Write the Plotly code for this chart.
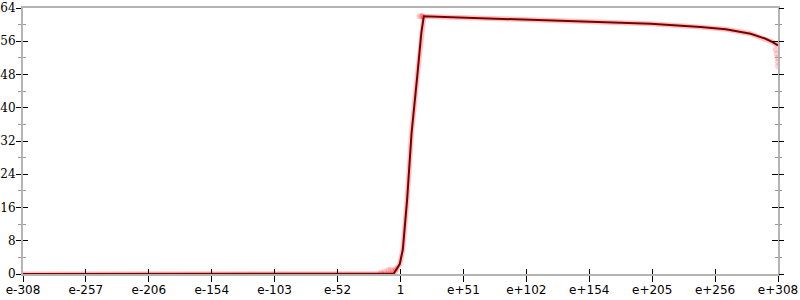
import plotly.graph_objects as go

# exponent (base 10) of x, and measured value
line_x = [-308, -250, -200, -150, -100, -50, -20, -10, -5.5, -0.6, 1.9, 5.4, 9.0,
          13.6, 15.0, 17.0, 19.0, 40.8, 81.6, 122.4, 163.2, 204.0, 244.9, 265.3,
          285.7, 297.9, 303.6, 306.9, 308.0]
line_y = [0, 0, 0, 0, 0, 0, 0, 0, 0.1, 2.4, 5.9, 17.9, 33.8,
          47.4, 51.8, 58.0, 62.0, 61.8, 61.4, 61.1, 60.7, 60.2, 59.4, 58.9,
          57.8, 56.6, 55.8, 55.2, 55.0]

# scattered samples visible away from the main line
scatter_x = [-16, -13, -10, -8, -6, -4, 15.5, 17.0, 18.0, 306.0, 307.0, 307.5, 308.0, 308.0]
scatter_y = [0.3, 0.6, 0.9, 1.0, 0.8, 1.2, 62.0, 62.0, 62.0, 54.0, 53.0, 52.0, 51.0, 50.0]

x_tickvals = [-308 + k * 616 / 12 for k in range(13)]
x_ticktext = ["e-308", "e-257", "e-206", "e-154", "e-103", "e-52", "1",
              "e+51", "e+102", "e+154", "e+205", "e+256", "e+308"]

AXIS_GRAY = "#b4b4b4"
MINOR_GRAY = "#9a9a9a"

fig = go.Figure()

# red halo of overlapping samples
fig.add_trace(go.Scatter(x=line_x, y=line_y, mode="lines",
                         line=dict(color="rgba(255,0,0,0.25)", width=5),
                         hoverinfo="skip", showlegend=False))
fig.add_trace(go.Scatter(x=scatter_x, y=scatter_y, mode="markers",
                         marker=dict(color="rgba(255,0,0,0.18)", size=6, line=dict(width=0)),
                         hoverinfo="skip", showlegend=False))
# main line
fig.add_trace(go.Scatter(x=line_x, y=line_y, mode="lines",
                         line=dict(color="#7a0000", width=2),
                         showlegend=False))

# dummy traces to activate overlay axes
for xa, ya in [("x2", "y"), ("x", "y2"), ("x", "y3"), ("x", "y4")]:
    fig.add_trace(go.Scatter(x=[None], y=[None], xaxis=xa, yaxis=ya,
                             showlegend=False, hoverinfo="skip"))

xcommon = dict(range=[-308, 308], tickmode="array", tickvals=x_tickvals,
               showgrid=False, zeroline=False, tickcolor="black", tickwidth=1,
               automargin=False)
ycommon = dict(range=[0, 64], tickmode="linear", tick0=0, dtick=8,
               showgrid=False, zeroline=False, tickcolor="black", tickwidth=1,
               automargin=False)

fig.update_layout(
    width=800, height=300,
    margin=dict(l=23, r=22, t=8, b=26, autoexpand=False),
    paper_bgcolor="white", plot_bgcolor="white",
    xaxis=dict(**xcommon, ticktext=x_ticktext, ticks="outside", ticklen=6,
               ticklabelstandoff=-2,
               showline=True, linecolor=AXIS_GRAY, linewidth=2, mirror=True,
               tickfont=dict(family="DejaVu Sans", size=12, color="black")),
    xaxis2=dict(**xcommon, overlaying="x", anchor="y", side="bottom",
                ticks="inside", ticklen=5, showticklabels=False, showline=False),
    yaxis=dict(**ycommon, ticks="outside", ticklen=5, ticklabelstandoff=-2,
               minor=dict(ticks="outside", ticklen=3, tickcolor=MINOR_GRAY, dtick=4, tick0=0, showgrid=False),
               showline=True, linecolor=AXIS_GRAY, linewidth=2, mirror=True,
               tickfont=dict(family="DejaVu Serif", size=12, color="black")),
    yaxis2=dict(**ycommon, overlaying="y", anchor="x", side="left",
                ticks="inside", ticklen=5, showticklabels=False, showline=False,
                minor=dict(ticks="inside", ticklen=3, tickcolor=MINOR_GRAY, dtick=4, tick0=0, showgrid=False)),
    yaxis3=dict(**ycommon, overlaying="y", anchor="x", side="right",
                ticks="outside", ticklen=5, showticklabels=False, showline=False,
                minor=dict(ticks="outside", ticklen=3, tickcolor=MINOR_GRAY, dtick=4, tick0=0, showgrid=False)),
    yaxis4=dict(**ycommon, overlaying="y", anchor="x", side="right",
                ticks="inside", ticklen=6, showticklabels=False, showline=False,
                minor=dict(ticks="inside", ticklen=3, tickcolor=MINOR_GRAY, dtick=4, tick0=0, showgrid=False)),
)

fig.write_html("out.html")
